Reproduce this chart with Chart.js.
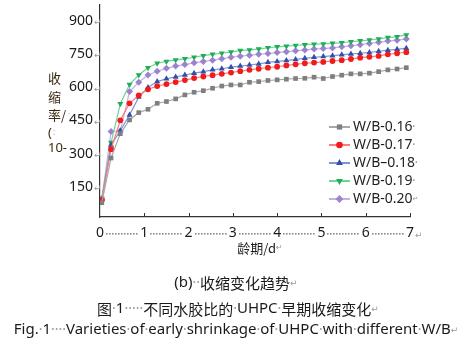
<!DOCTYPE html>
<html>
<head>
<meta charset="utf-8">
<script src="https://cdn.jsdelivr.net/npm/chart.js@4.4.1/dist/chart.umd.min.js"></script>
<style>
  html, body { margin: 0; padding: 0; background: #fff; }
  #wrap { position: relative; width: 472px; height: 347px; }
</style>
</head>
<body>
<div id="wrap"><canvas id="c" width="472" height="347"></canvas></div>
<script>
// Measurement times (hours after casting), plotted in days
const ageHours = [1, 6, 11, 16, 21, 26, 31, 36, 41, 46, 51, 56, 61, 66, 71, 76, 81,
                  86, 91, 96, 101, 106, 111, 116, 121, 126, 131, 136, 141, 146, 151,
                  156, 161, 166];

// Shrinkage (x10^-6) for each water/binder ratio
const wb016 = [78, 280, 390, 452, 485, 500, 527, 535, 547, 565, 577, 584, 595, 605, 610, 610, 622,
               625, 630, 633, 636, 639, 640, 645, 639, 648, 654, 660, 660, 663, 670, 678, 682, 688];
const wb017 = [90, 320, 450, 527, 563, 590, 605, 614, 623, 632, 641, 648, 654, 660, 666, 672, 678,
               683, 688, 692, 698, 703, 708, 711, 714, 718, 722, 727, 733, 737, 741, 748, 753, 758];
const wb018 = [95, 339, 403, 474, 555, 598, 625, 638, 646, 655, 663, 670, 678, 683, 690, 695, 700,
               705, 712, 716, 720, 725, 730, 735, 738, 742, 746, 750, 753, 757, 762, 767, 771, 776];
const wb019 = [98, 350, 525, 612, 655, 688, 708, 716, 723, 728, 735, 742, 748, 753, 759, 765, 768,
               772, 778, 782, 785, 788, 792, 794, 795, 798, 801, 805, 809, 813, 818, 824, 828, 836];
const wb020 = [95, 400, 402, 580, 622, 655, 672, 685, 695, 702, 710, 716, 722, 728, 735, 740, 744,
               748, 752, 756, 760, 764, 768, 772, 774, 777, 782, 787, 792, 797, 803, 808, 812, 817];

const seriesNames = ['W/B-0.16', 'W/B-0.17', 'W/B\u20130.18', 'W/B-0.19', 'W/B-0.20'];
const xTickValues = [0, 1, 2, 3, 4, 5, 6, 7];
const yTickValues = [150, 300, 450, 600, 750, 900];

const styles = [
  { line: '#a8a8a8', fill: '#7f7f7f', shape: 'rect',     r: 3.3, rot: 0 },
  { line: '#ff7a7a', fill: '#f01c1c', shape: 'circle',   r: 2.9, rot: 0 },
  { line: '#7f93d6', fill: '#2f4fa8', shape: 'triangle', r: 3.5, rot: 0 },
  { line: '#6fd49a', fill: '#1fae55', shape: 'triangle', r: 3.5, rot: 180 },
  { line: '#c4b0e6', fill: '#9c82cf', shape: 'rectRot',  r: 3.5, rot: 0 }
];

const toPoints = vals => vals.map((v, i) => ({ x: ageHours[i] / 24, y: v }));
const values = [wb016, wb017, wb018, wb019, wb020];

const datasets = values.map((vals, i) => ({
  label: seriesNames[i],
  data: toPoints(vals),
  borderColor: styles[i].line,
  borderWidth: 1.2,
  backgroundColor: styles[i].fill,
  pointBackgroundColor: styles[i].fill,
  pointBorderColor: styles[i].fill,
  pointBorderWidth: 0,
  pointStyle: styles[i].shape,
  pointRotation: styles[i].rot,
  pointRadius: styles[i].r,
  tension: 0
}));

const LATIN = '"Segoe UI", "Noto Sans", "DejaVu Sans", sans-serif';
const CJK = '"Noto Sans CJK SC", "Noto Sans", sans-serif';
const MARK = '#9a9a9a';

// Draws runs of differently coloured text, starting at x (or centred on cx)
function drawRuns(ctx, runs, y, opts) {
  ctx.save();
  ctx.textBaseline = 'middle';
  ctx.textAlign = 'left';
  let total = 0;
  runs.forEach(r => { ctx.font = r.font; total += ctx.measureText(r.t).width; });
  let x = opts.cx !== undefined ? opts.cx - total / 2 : opts.x;
  runs.forEach(r => {
    ctx.font = r.font;
    ctx.fillStyle = r.c;
    ctx.fillText(r.t, x, y);
    x += ctx.measureText(r.t).width;
  });
  ctx.restore();
}

const decorations = {
  id: 'decorations',
  afterDraw(chart) {
    const ctx = chart.ctx;
    const xs = chart.scales.x, ys = chart.scales.y;
    const area = chart.chartArea;

    // inward tick marks on the age axis
    ctx.save();
    ctx.strokeStyle = '#333';
    ctx.lineWidth = 1;
    xTickValues.slice(1).forEach(v => {
      const px = Math.round(xs.getPixelForValue(v)) + 0.5;
      ctx.beginPath();
      ctx.moveTo(px, area.bottom);
      ctx.lineTo(px, area.bottom - 4);
      ctx.stroke();
    });
    ctx.restore();

    // dotted leaders between the age labels
    ctx.save();
    ctx.fillStyle = '#8c8c8c';
    const ly = 233;
    for (let i = 0; i < xTickValues.length - 1; i++) {
      const a = xs.getPixelForValue(xTickValues[i]) + 6;
      const b = xs.getPixelForValue(xTickValues[i + 1]) - 6;
      for (let x = a; x <= b; x += 3) ctx.fillRect(Math.round(x), ly, 1.6, 1.6);
    }
    ctx.font = '9px ' + LATIN;
    ctx.fillStyle = MARK;
    ctx.textBaseline = 'middle';
    ctx.fillText('\u21b5', xs.getPixelForValue(7) + 5, ly + 2);
    ctx.restore();

    // return marks beside the shrinkage labels
    ctx.save();
    ctx.font = '9px ' + LATIN;
    ctx.fillStyle = MARK;
    ctx.textBaseline = 'middle';
    yTickValues.forEach(v => ctx.fillText('\u21b5', area.left - 6, ys.getPixelForValue(v) + 2));
    ctx.restore();

    // vertical axis title
    ctx.save();
    ctx.fillStyle = '#3b2a12';
    ctx.textBaseline = 'middle';
    ctx.font = '13px ' + CJK;
    ctx.fillText('\u6536', 48, 78);
    ctx.fillText('\u7f29', 48, 97);
    ctx.fillText('\u7387/', 48, 115);
    ctx.font = '13px ' + LATIN;
    ctx.fillText('(', 48, 133);
    ctx.fillText('10-', 48, 148);
    ctx.fillStyle = MARK;
    ctx.font = '8px ' + LATIN;
    ctx.fillText('\u00b7', 68, 115);
    ctx.fillText(':', 53, 133);
    ctx.restore();

    // legend
    ctx.save();
    chart.data.datasets.forEach((ds, i) => {
      const y = 127 + i * 18;
      ctx.strokeStyle = ds.borderColor;
      ctx.lineWidth = 2;
      ctx.beginPath();
      ctx.moveTo(329, y);
      ctx.lineTo(350, y);
      ctx.stroke();
      ctx.fillStyle = ds.pointBackgroundColor;
      ctx.strokeStyle = ds.pointBackgroundColor;
      Chart.helpers.drawPoint(ctx, {
        pointStyle: ds.pointStyle, rotation: ds.pointRotation,
        radius: ds.pointRadius + 0.4, borderWidth: 0
      }, 339.5, y);
      drawRuns(ctx, [
        { t: ds.label, c: '#1f1f1f', font: '14px ' + LATIN },
        { t: i === 4 ? '\u21b5' : '\u2022', c: MARK, font: '7px ' + LATIN }
      ], y, { x: 353 });
    });
    ctx.restore();

    // age axis title and captions
    const k = (t) => ({ t, c: '#1a1a1a', font: '15px ' + CJK });
    const w = (t) => ({ t, c: '#1a1a1a', font: '15px ' + LATIN });
    const d = (t) => ({ t, c: MARK, font: '14px ' + LATIN });
    const ret = { t: '\u21b5', c: MARK, font: '9px ' + LATIN };
    drawRuns(ctx, [
      { t: '\u9f84\u671f/d', c: '#1a1a1a', font: '13px ' + CJK },
      { t: '\u21b5', c: MARK, font: '8px ' + LATIN }
    ], 248, { cx: 260 });
    drawRuns(ctx, [w('(b)'), d('\u00b7\u00b7'), k('\u6536\u7f29\u53d8\u5316\u8d8b\u52bf'), ret],
      283, { cx: 236 });
    drawRuns(ctx, [
      k('\u56fe'), d('\u00b7'), w('1'), d('\u00b7\u00b7\u00b7\u00b7\u00b7'),
      k('\u4e0d\u540c\u6c34\u80f6\u6bd4\u7684'), d('\u00b7'), w('UHPC'), d('\u00b7'),
      k('\u65e9\u671f\u6536\u7f29\u53d8\u5316'), ret
    ], 309, { cx: 238 });
    drawRuns(ctx, [
      w('Fig.'), d('\u00b7'), w('1'), d('\u00b7\u00b7\u00b7\u00b7'), w('Varieties'), d('\u00b7'),
      w('of'), d('\u00b7'), w('early'), d('\u00b7'), w('shrinkage'), d('\u00b7'), w('of'), d('\u00b7'),
      w('UHPC'), d('\u00b7'), w('with'), d('\u00b7'), w('different'), d('\u00b7'), w('W/B'), ret
    ], 330, { cx: 236 });
  }
};

new Chart(document.getElementById('c'), {
  type: 'line',
  data: { datasets },
  options: {
    responsive: false,
    animation: false,
    devicePixelRatio: 1,
    layout: { padding: { left: 0, right: 62, top: 5, bottom: 0 } },
    plugins: { legend: { display: false }, tooltip: { enabled: false } },
    scales: {
      x: {
        type: 'linear',
        min: 0, max: 7,
        afterFit: s => { s.height = 130; s.paddingLeft = 0; s.paddingRight = 0; },
        afterBuildTicks: s => { s.ticks = xTickValues.map(v => ({ value: v })); },
        grid: { display: false, drawTicks: false },
        border: { display: true, color: '#333', width: 1.2 },
        ticks: { color: '#1a1a1a', font: { size: 14, family: LATIN }, padding: 8, maxRotation: 0 }
      },
      y: {
        type: 'linear',
        min: 13.5, max: 971,
        afterFit: s => { s.width = 100; s.paddingTop = 0; s.paddingBottom = 0; },
        afterBuildTicks: s => { s.ticks = yTickValues.map(v => ({ value: v })); },
        grid: { display: false, drawTicks: false },
        border: { display: true, color: '#333', width: 1.2 },
        ticks: { color: '#1a1a1a', font: { size: 14, family: LATIN }, padding: 7 }
      }
    }
  },
  plugins: [decorations]
});
</script>
</body>
</html>
